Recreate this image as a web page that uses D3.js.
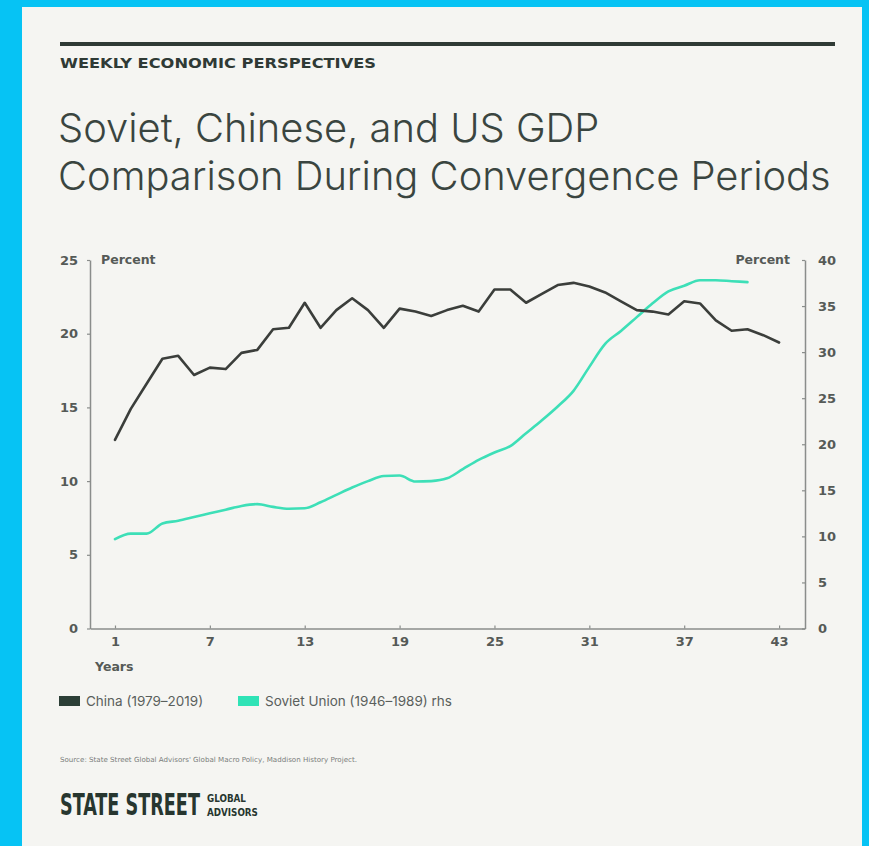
<!DOCTYPE html>
<html>
<head>
<meta charset="utf-8">
<script src="https://cdn.jsdelivr.net/npm/d3@7"></script>
<style>
  html, body { margin: 0; padding: 0; background: #06c3f4; }
  svg { display: block; }
</style>
</head>
<body>
<svg id="chart" width="869" height="846"></svg>
<script>
// Years since start of each convergence period
const years = [1,2,3,4,5,6,7,8,9,10,11,12,13,14,15,16,17,18,19,20,21,22,23,24,25,26,27,28,29,30,31,32,33,34,35,36,37,38,39,40,41,42,43];

// China (1979–2019), percent, left axis
const chinaValues = [12.8,14.9,16.6,18.3,18.5,17.2,17.7,17.6,18.7,18.9,20.3,20.4,22.1,20.4,21.6,22.4,21.6,20.4,21.7,21.5,21.2,21.6,21.9,21.5,23.0,23.0,22.1,22.7,23.3,23.45,23.2,22.8,22.2,21.6,21.5,21.3,22.2,22.05,20.9,20.2,20.3,19.9,19.4];

// Soviet Union (1946–1989), percent, right axis
const sovietYears = [1,2,3,4,5,6,7,8,9,10,11,12,13,14,15,16,17,18,19,20,21,22,23,24,25,26,27,28,29,30,31,32,33,34,35,36,37,38,39,40,41];
const sovietValues = [9.7,10.3,10.3,11.4,11.7,12.1,12.5,12.9,13.3,13.5,13.2,13.0,13.05,13.7,14.5,15.3,16.0,16.55,16.6,15.95,16.0,16.3,17.3,18.3,19.1,19.8,21.2,22.6,24.1,25.8,28.4,30.9,32.3,33.8,35.3,36.6,37.2,37.8,37.8,37.7,37.6];

const xTicks = [1,7,13,19,25,31,37,43];
const leftTicks = [0,5,10,15,20,25];
const rightTicks = [0,5,10,15,20,25,30,35,40];

const seriesNames = ["China (1979–2019)", "Soviet Union (1946–1989) rhs"];
const seriesColors = ["#2c3f37", "#2fe3b6"];
const lineColors = ["#3b3e3b", "#3ddfb7"];

const svg = d3.select("#chart");
const ink = "#3a4540";
const axisInk = "#555a57";

// Card
svg.append("rect").attr("x", 22).attr("y", 7).attr("width", 840).attr("height", 839).attr("fill", "#f5f5f2");

// Header rule and kicker
svg.append("rect").attr("x", 60).attr("y", 42).attr("width", 775).attr("height", 4).attr("fill", "#2f3a35");
svg.append("text").attr("x", 60).attr("y", 68)
  .attr("font-family", "'DejaVu Sans Condensed', 'DejaVu Sans', sans-serif")
  .attr("font-weight", 700).attr("font-size", 13.5).attr("fill", "#2f3a35")
  .attr("textLength", 316).attr("lengthAdjust", "spacingAndGlyphs")
  .text("WEEKLY ECONOMIC PERSPECTIVES");

// Title
const titleLines = ["Soviet, Chinese, and US GDP", "Comparison During Convergence Periods"];
const title = svg.append("g").attr("font-family", "Inter, 'Noto Sans', sans-serif").attr("font-weight", 300).attr("fill", ink);
const t1 = title.append("text").attr("x", 58).attr("y", 142).attr("font-size", 44).text(titleLines[0]);
const t2 = title.append("text").attr("x", 58).attr("y", 190).attr("font-size", 44).text(titleLines[1]);
const w2 = t2.node().getComputedTextLength();
const fs = 44 * 773 / w2;
t1.attr("font-size", fs); t2.attr("font-size", fs);

// Scales
const x = d3.scaleLinear().domain([-0.58, 44.64]).range([90, 805]);
const yL = d3.scaleLinear().domain([0, 25]).range([628.5, 260]);
const yR = d3.scaleLinear().domain([0, 40]).range([628.5, 260]);

function styleAxis(g) {
  g.selectAll("path").attr("stroke", "#8a8d8b").attr("stroke-width", 1.5);
  g.selectAll("line").attr("stroke", "#8a8d8b").attr("stroke-width", 1.2);
  g.selectAll("text").attr("font-family", "'DejaVu Sans', sans-serif").attr("font-weight", 700)
    .attr("font-size", 13).attr("fill", axisInk);
}

svg.append("g").attr("transform", "translate(90,0)")
  .call(d3.axisLeft(yL).tickValues(leftTicks).tickSizeInner(3).tickSizeOuter(0).tickPadding(9))
  .call(styleAxis);
svg.append("g").attr("transform", "translate(805,0)")
  .call(d3.axisRight(yR).tickValues(rightTicks).tickSizeInner(-3).tickSizeOuter(0).tickPadding(13))
  .call(styleAxis);
svg.append("g").attr("transform", "translate(0,628.5)")
  .call(d3.axisBottom(x).tickValues(xTicks).tickSizeInner(-3).tickSizeOuter(0).tickPadding(8))
  .call(styleAxis);

// Axis titles
const axisLabel = (xx, yy, anchor, txt) => svg.append("text").attr("x", xx).attr("y", yy)
  .attr("text-anchor", anchor).attr("font-family", "'DejaVu Sans', sans-serif").attr("font-weight", 700)
  .attr("font-size", 12.5).attr("fill", axisInk).text(txt);
axisLabel(101, 264, "start", "Percent");
axisLabel(790, 264, "end", "Percent");
axisLabel(95, 671, "start", "Years");

// Lines
const chinaLine = d3.line().x((d, i) => x(years[i])).y(d => yL(d));
const sovietLine = d3.line().x((d, i) => x(sovietYears[i])).y(d => yR(d)).curve(d3.curveMonotoneX);

svg.append("path").datum(sovietValues).attr("d", sovietLine)
  .attr("fill", "none").attr("stroke", lineColors[1]).attr("stroke-width", 2.6)
  .attr("stroke-linejoin", "round").attr("stroke-linecap", "round");
svg.append("path").datum(chinaValues).attr("d", chinaLine)
  .attr("fill", "none").attr("stroke", lineColors[0]).attr("stroke-width", 2.6)
  .attr("stroke-linejoin", "round").attr("stroke-linecap", "round");

// Legend
const legendX = [59, 238];
const legend = svg.append("g");
seriesNames.forEach((name, i) => {
  legend.append("rect").attr("x", legendX[i]).attr("y", 696).attr("width", 21).attr("height", 10).attr("fill", seriesColors[i]);
  legend.append("text").attr("x", legendX[i] + 27).attr("y", 706)
    .attr("font-family", "Inter, 'Noto Sans', sans-serif").attr("font-size", 13.5).attr("fill", "#5a5f5c").text(name);
});

// Source note
svg.append("text").attr("x", 60).attr("y", 762)
  .attr("font-family", "'Liberation Sans Narrow', 'DejaVu Sans Condensed', sans-serif")
  .attr("font-size", 7).attr("fill", "#7a7d7b")
  .attr("textLength", 297).attr("lengthAdjust", "spacingAndGlyphs")
  .text("Source: State Street Global Advisors' Global Macro Policy, Maddison History Project.");

// Logo wordmark: each word sized to its width, then stretched to its cap height
const logo = svg.append("g").attr("fill", "#27362f")
  .attr("font-family", "'DejaVu Sans Condensed', 'DejaVu Sans', sans-serif").attr("font-weight", 700);
function wordmark(txt, x0, y0, width, capH) {
  const t = logo.append("text").attr("x", 0).attr("y", 0).attr("font-size", 20).text(txt);
  const size = 20 * width / t.node().getComputedTextLength();
  t.attr("font-size", size)
   .attr("transform", `translate(${x0},${y0}) scale(1,${capH / (0.73 * size)})`);
}
wordmark("STATE STREET", 60, 815, 140, 22);
wordmark("GLOBAL", 207, 802, 39, 8.3);
wordmark("ADVISORS", 207, 815.5, 51, 8.3);
</script>
</body>
</html>
